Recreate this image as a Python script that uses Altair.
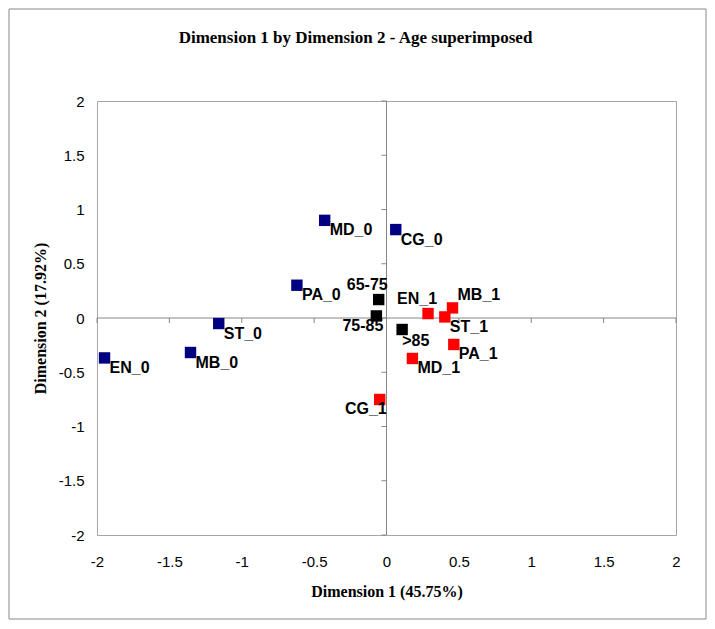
import altair as alt
import pandas as pd

# ---- data ----
labels = ["EN_0", "MB_0", "ST_0", "PA_0", "MD_0", "CG_0",
          "65-75", "75-85", ">85",
          "EN_1", "MB_1", "ST_1", "PA_1", "MD_1", "CG_1"]
dim1 = [-1.948, -1.354, -1.159, -0.619, -0.427, 0.064,
        -0.054, -0.070, 0.108,
        0.287, 0.456, 0.403, 0.465, 0.179, -0.047]
dim2 = [-0.368, -0.318, -0.051, 0.302, 0.900, 0.815,
        0.170, 0.019, -0.106,
        0.041, 0.093, 0.010, -0.244, -0.373, -0.751]
groups = ["0"] * 6 + ["age"] * 3 + ["1"] * 6
placement = ["br"] * 6 + ["tl", "bl", "b"] + ["tl", "tr", "br", "br", "br", "bl"]
tick_values = [-2, -1.5, -1, -0.5, 0, 0.5, 1, 1.5, 2]

title_text = "Dimension 1 by Dimension 2 - Age superimposed"
x_title = "Dimension 1 (45.75%)"
y_title = "Dimension 2 (17.92%)"

df = pd.DataFrame({"label": labels, "dim1": dim1, "dim2": dim2,
                   "group": groups, "pos": placement})
ticks_df = pd.DataFrame({"t": tick_values, "zero": [0] * len(tick_values)})
zero_df = pd.DataFrame({"zero": [0]})
one_df = pd.DataFrame({"t": [title_text]})

W, H = 579, 434
xscale = alt.Scale(domain=[-2, 2], nice=False, zero=False)
yscale = alt.Scale(domain=[-2, 2], nice=False, zero=False)

common_axis = dict(values=tick_values, labelExpr="toString(datum.value)",
                   domain=False, ticks=False, tickSize=0, grid=False,
                   labelFont="Liberation Sans", labelFontSize=15, labelColor="black",
                   titleFont="Liberation Serif", titleFontSize=16, titleFontWeight="bold",
                   titleColor="black", labelFlush=False, labelOverlap=False)
xaxis = alt.Axis(title=x_title, labelPadding=19, titlePadding=14, **common_axis)
yaxis = alt.Axis(title=y_title, labelPadding=13, titlePadding=10, **common_axis)

AXIS_GRAY = "#868686"

# outer border of whole chart
border = alt.Chart(one_df).mark_rect(fill="white", fillOpacity=0, stroke="#888888",
                                     strokeWidth=1).encode(
    x=alt.value(-88), x2=alt.value(609), y=alt.value(-92), y2=alt.value(518))

title = alt.Chart(one_df).mark_text(font="Liberation Serif", fontSize=17,
                                    fontWeight="bold", align="center",
                                    baseline="alphabetic", color="black").encode(
    text="t:N", x=alt.value(258.5), y=alt.value(-58.3))

hline = alt.Chart(zero_df).mark_rule(color=AXIS_GRAY, strokeWidth=1).encode(
    y=alt.Y("zero:Q", scale=yscale, axis=yaxis))
vline = alt.Chart(zero_df).mark_rule(color=AXIS_GRAY, strokeWidth=1).encode(
    x=alt.X("zero:Q", scale=xscale, axis=xaxis))

xticks = alt.Chart(ticks_df).mark_rule(color=AXIS_GRAY, strokeWidth=1, y2Offset=5).encode(
    x=alt.X("t:Q", scale=xscale, axis=xaxis),
    y=alt.Y("zero:Q", scale=yscale, axis=yaxis), y2="zero:Q")
yticks = alt.Chart(ticks_df).mark_rule(color=AXIS_GRAY, strokeWidth=1, x2Offset=-5).encode(
    y=alt.Y("t:Q", scale=yscale, axis=yaxis),
    x=alt.X("zero:Q", scale=xscale, axis=xaxis), x2="zero:Q")

base = alt.Chart(df)
points = base.mark_square(size=130, opacity=1).encode(
    x=alt.X("dim1:Q", scale=xscale, axis=xaxis),
    y=alt.Y("dim2:Q", scale=yscale, axis=yaxis),
    color=alt.Color("group:N",
                    scale=alt.Scale(domain=["0", "1", "age"],
                                    range=["#000080", "#ff0000", "#000000"]),
                    legend=None))

place_style = {
    "br": dict(align="left", dx=5, dy=10),
    "b": dict(align="left", dx=0, dy=11),
    "bl": dict(align="right", dx=7, dy=10),
    "tl": dict(align="right", dx=9, dy=-15),
    "tr": dict(align="left", dx=5, dy=-13),
}
text_layers = []
for p, st in place_style.items():
    text_layers.append(
        base.transform_filter(alt.datum.pos == p).mark_text(
            font="Liberation Sans", fontSize=16, fontWeight="bold",
            baseline="middle", color="black", **st).encode(
            x=alt.X("dim1:Q", scale=xscale, axis=xaxis),
            y=alt.Y("dim2:Q", scale=yscale, axis=yaxis),
            text="label:N"))

chart = alt.layer(border, title, hline, vline, xticks, yticks, points, *text_layers).properties(
    width=W, height=H,
    autosize=alt.AutoSizeParams(type="none"),
    padding={"left": 89, "top": 93, "right": 31, "bottom": 90},
).configure_view(stroke="#a6a6a6", strokeWidth=1)

chart.save("out.html", embed_options={"renderer": "svg", "actions": False})
